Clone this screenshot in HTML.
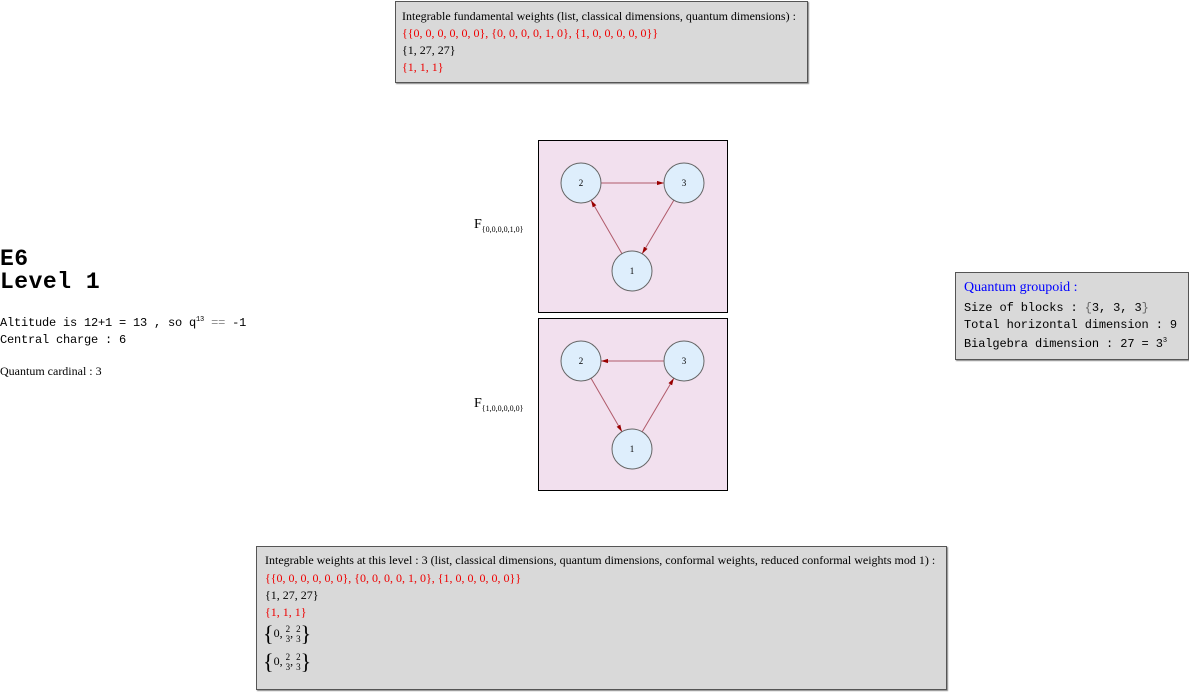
<!DOCTYPE html>
<html><head><meta charset="utf-8"><style>
body{margin:0;width:1189px;height:693px;background:#fff;position:relative;overflow:hidden;font-family:"Liberation Serif",serif;font-size:12px;color:#000}
.box{position:absolute;background:#d9d9d9;border:1px solid #555;box-shadow:1px 1px 1px #888;box-sizing:border-box}
.l{position:absolute;white-space:nowrap}
.r{color:#e00}
.m{font-family:"Liberation Mono",monospace}
.fr{display:inline-block;vertical-align:middle;text-align:center;font-size:9px;line-height:10px}
.br{font-size:22px;vertical-align:middle;line-height:22px}
</style></head><body>
<div class="box" style="left:395px;top:1px;width:413px;height:82px">
<div class="l" style="left:6px;top:7px">Integrable fundamental weights (list, classical dimensions, quantum dimensions) :</div>
<div class="l r" style="left:6px;top:24px">{{0, 0, 0, 0, 0, 0}, {0, 0, 0, 0, 1, 0}, {1, 0, 0, 0, 0, 0}}</div>
<div class="l" style="left:6px;top:41px">{1, 27, 27}</div>
<div class="l r" style="left:6px;top:58px">{1, 1, 1}</div>
</div>
<div class="l m" style="left:0;top:248px;font-size:23px;line-height:23px;font-weight:bold;letter-spacing:0.5px">E6<br>Level 1</div>
<div class="l m" style="left:0;top:316px;font-size:12px;letter-spacing:-0.2px">Altitude is 12+1 = 13 , so q<sup style="font-size:7px">13</sup> <span style="color:#888">==</span> -1</div>
<div class="l m" style="left:0;top:333px;font-size:12px;letter-spacing:-0.2px">Central charge : 6</div>
<div class="l" style="left:0;top:364px">Quantum cardinal : 3</div>
<div class="l" style="left:474px;top:217px;font-size:14px">F<sub style="font-size:8px">{0,0,0,0,1,0}</sub></div>
<div class="l" style="left:474px;top:396px;font-size:14px">F<sub style="font-size:8px">{1,0,0,0,0,0}</sub></div>
<svg width="1189" height="693" style="position:absolute;left:0;top:0">
<defs><marker id="a" viewBox="0 0 10 10" refX="10" refY="5" markerWidth="7" markerHeight="7" orient="auto"><path d="M0,2L10,5L0,8z" fill="#900"/></marker></defs>
<g id="graphs"></g>
</svg>
<div class="box" style="left:955px;top:272px;width:234px;height:88px">
<div class="l" style="left:8px;top:7px;color:#00f;font-size:14px">Quantum groupoid :</div>
<div class="l m" style="left:8px;top:28px;font-size:12px;letter-spacing:-0.1px">Size of blocks : <span style="color:#666">{</span>3, 3, 3<span style="color:#666">}</span></div>
<div class="l m" style="left:8px;top:45px;font-size:12px;letter-spacing:-0.1px">Total horizontal dimension : 9</div>
<div class="l m" style="left:8px;top:64px;font-size:12px;letter-spacing:-0.1px">Bialgebra dimension : 27 = 3<sup style="font-size:7px">3</sup></div>
</div>
<div class="box" style="left:256px;top:546px;width:691px;height:144px">
<div class="l" style="left:8px;top:6px">Integrable weights at this level : 3 (list, classical dimensions, quantum dimensions, conformal weights, reduced conformal weights mod 1) :</div>
<div class="l r" style="left:8px;top:24px">{{0, 0, 0, 0, 0, 0}, {0, 0, 0, 0, 1, 0}, {1, 0, 0, 0, 0, 0}}</div>
<div class="l" style="left:8px;top:41px">{1, 27, 27}</div>
<div class="l r" style="left:8px;top:58px">{1, 1, 1}</div>
<div class="l" style="left:6px;top:76px"><span class="br">{</span>0, <span class="fr">2<br>3</span>, <span class="fr">2<br>3</span><span class="br">}</span></div>
<div class="l" style="left:6px;top:104px"><span class="br">{</span>0, <span class="fr">2<br>3</span>, <span class="fr">2<br>3</span><span class="br">}</span></div>
</div>
<script>
const boxTops=[140,318];
const nodeLabels=["1","2","3"];
const nodePos=[[632,131],[581,43],[684,43]];
const edges0=[[2,3],[3,1],[1,2]];
const edges1=[[3,2],[2,1],[1,3]];
const g=document.getElementById('graphs');
const NS='http://www.w3.org/2000/svg';
function mk(t,a){const e=document.createElementNS(NS,t);for(const k in a)e.setAttribute(k,a[k]);g.appendChild(e);return e;}
[edges0,edges1].forEach((edges,bi)=>{
 const top=boxTops[bi];
 const b=mk('rect',{x:538.5,y:top+0.5,width:189,height:172,fill:'#f2e0ee',stroke:'#000'});
 
 
 const R=20;
 edges.forEach(([s,t])=>{
  const p=nodePos[s-1],q=nodePos[t-1];
  const x1=p[0],y1=p[1]+top,x2=q[0],y2=q[1]+top;
  const d=Math.hypot(x2-x1,y2-y1),ux=(x2-x1)/d,uy=(y2-y1)/d;
  const l=mk('line',{x1:x1+ux*R,y1:y1+uy*R,x2:x2-ux*R,y2:y2-uy*R,stroke:'#b05a6a','stroke-width':1,'marker-end':'url(#a)'});
  
  
 });
 nodePos.forEach((p,i)=>{
  const c=mk('circle',{cx:p[0],cy:p[1]+top,r:R,fill:'#deeefc',stroke:'#666'});
  
  
  const t=mk('text',{x:p[0],y:p[1]+top+3,'text-anchor':'middle','font-size':9,'font-family':'Liberation Serif'});
  t.textContent=nodeLabels[i];
 });
});
</script>
</body></html>
